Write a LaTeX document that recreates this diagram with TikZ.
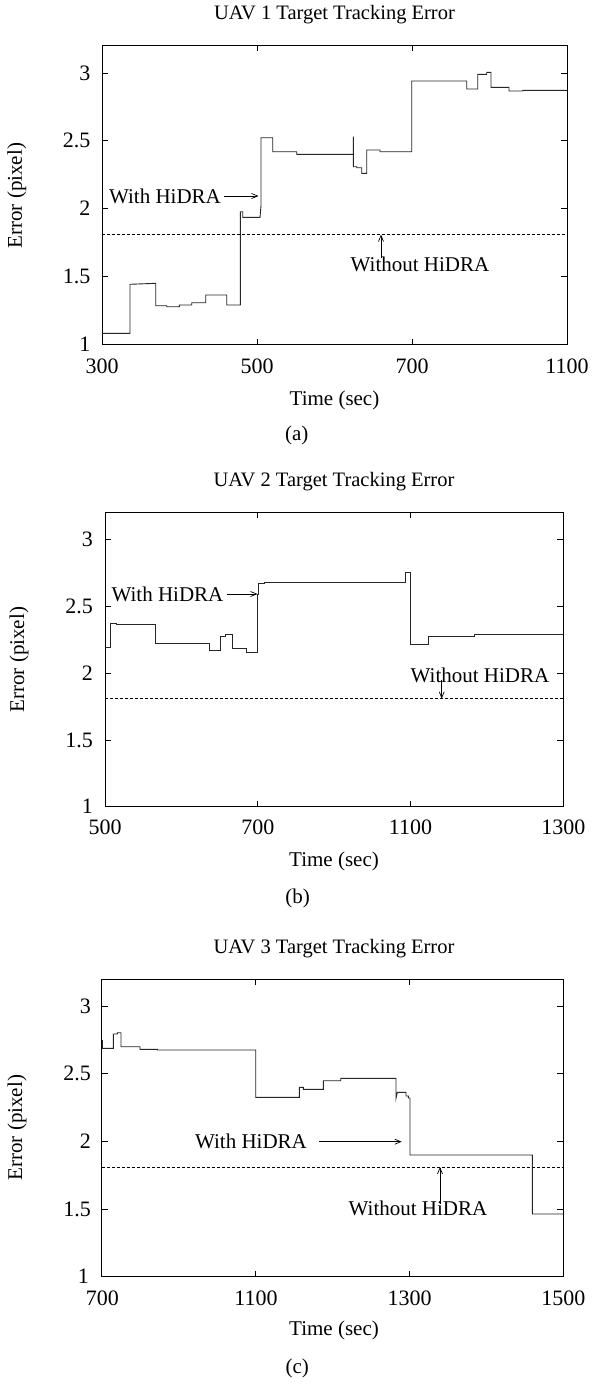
\documentclass[tikz,border=0pt]{standalone}
\usepackage{fontspec}
\setmainfont{Liberation Serif}
\usetikzlibrary{arrows.meta}
\tikzset{
  frame/.style={line width=0.9pt, black},
  tickmark/.style={line width=0.8pt, black},
  curve/.style={line width=0.9pt, black!85, line join=miter},
  thresh/.style={line width=0.8pt, black, dash pattern=on 3pt off 2pt},
  harrow/.style={line width=0.7pt, black, -{Straight Barb[length=6pt,width=5pt]}},
  txt/.style={inner sep=0pt, font=\fontsize{21}{23}\selectfont},
  ttl/.style={inner sep=0pt, font=\fontsize{20.5}{23}\selectfont},
  ticklbl/.style={inner sep=0pt, font=\fontsize{22}{24}\selectfont},
}
\begin{document}
\begin{tikzpicture}[x=1pt,y=-1pt]
\useasboundingbox[fill=white] (0,0) rectangle (592,1384);

% ================= Plot (a) =================
\draw[frame] (102,45.7) rectangle (567,344.5);
\foreach \yy in {276.6,208.7,140.8,72.9} {
  \draw[tickmark] (102,\yy) -- (108,\yy);
  \draw[tickmark] (567,\yy) -- (561,\yy);
}
\foreach \xx in {257,412} {
  \draw[tickmark] (\xx,344.5) -- (\xx,339);
  \draw[tickmark] (\xx,45.7) -- (\xx,51.2);
}
\node[ticklbl, anchor=east] (ya1) at (90.5,344.5) {1};
\node[ticklbl, anchor=east] (ya15) at (90.5,276.6) {1.5};
\node[ticklbl, anchor=east] (ya2) at (90.5,208.7) {2};
\node[ticklbl, anchor=east] (ya25) at (90.5,140.8) {2.5};
\node[ticklbl, anchor=east] (ya3) at (90.5,72.9) {3};
\node[ticklbl] (xa1) at (102,366.7) {300};
\node[ticklbl] (xa2) at (257,366.7) {500};
\node[ticklbl] (xa3) at (412,366.7) {700};
\node[ticklbl] (xa4) at (567,366.7) {1100};
\node[ttl] (ta) at (334.5,15) {UAV 1 Target Tracking Error};
\node[txt, rotate=90] (yla) at (16.7,195.7) {Error (pixel)};
\node[txt] (xla) at (334.5,400) {Time (sec)};
\node[txt] (ca) at (296.7,435) {(a)};
\coordinate (dla1) at (102,234.5);
\coordinate (dla2) at (567,234.5);
\draw[thresh] (dla1) -- (dla2);
\draw[curve] (102,333.3) -- (130,333.3) -- (130,284.3) -- (155.7,283.3) -- (155.7,305.7)
  -- (166.7,305.7) -- (166.7,306.7) -- (179.3,306.7) -- (179.3,305) -- (191.7,305)
  -- (191.7,302.7) -- (205.7,302.7) -- (205.7,295) -- (226.7,295) -- (226.7,305)
  -- (240.3,305) -- (240.3,211.7) -- (242.7,211.7) -- (242.7,217.3) -- (260,217.3)
  -- (261,205.7) -- (261,137.7) -- (272.7,137.7) -- (272.7,151.7) -- (296.7,151.7)
  -- (296.7,154.3) -- (353.3,154.3) -- (353.3,136.7) -- (353.3,166.7) -- (356.7,166.7)
  -- (356.7,167.7) -- (361.7,167.7) -- (361.7,173.3) -- (366.7,173.3) -- (366.7,150)
  -- (380,150) -- (380,151.7) -- (411.7,151.7) -- (411.7,81) -- (466.7,81)
  -- (466.7,89) -- (477.7,89) -- (477.7,74.3) -- (486.7,74.3) -- (486.7,72.3)
  -- (491,72.3) -- (491,87.3) -- (509,87.3) -- (509,91) -- (522.7,91)
  -- (522.7,90.3) -- (567,90.3);
\node[txt] (wa) at (165,196) {With HiDRA};
\coordinate (tipwa) at (258.5,196);
\draw[harrow] ([xshift=3pt]wa.east) -- (tipwa);
\node[txt] (woa) at (420,264) {Without HiDRA};
\coordinate (tipwoa) at (381,234.5);
\draw[harrow] ([yshift=-2pt]woa.north -| tipwoa) -- (tipwoa);

% ================= Plot (b) =================
\draw[frame] (105,512.7) rectangle (563.3,806.7);
\foreach \yy in {740,673.2,606.5,539.7} {
  \draw[tickmark] (105,\yy) -- (111,\yy);
  \draw[tickmark] (563.3,\yy) -- (557.3,\yy);
}
\foreach \xx in {257.8,410.5} {
  \draw[tickmark] (\xx,806.7) -- (\xx,801.2);
  \draw[tickmark] (\xx,512.7) -- (\xx,518.2);
}
\node[ticklbl, anchor=east] (yb1) at (93,806.7) {1};
\node[ticklbl, anchor=east] (yb15) at (93,740) {1.5};
\node[ticklbl, anchor=east] (yb2) at (93,673.2) {2};
\node[ticklbl, anchor=east] (yb25) at (93,606.5) {2.5};
\node[ticklbl, anchor=east] (yb3) at (93,539.7) {3};
\node[ticklbl] (xb1) at (105,827.7) {500};
\node[ticklbl] (xb2) at (257.8,827.7) {700};
\node[ticklbl] (xb3) at (410.5,827.7) {1100};
\node[ticklbl] (xb4) at (563.3,827.7) {1300};
\node[ttl] (tb) at (334,481.7) {UAV 2 Target Tracking Error};
\node[txt, rotate=90] (ylb) at (19,659.7) {Error (pixel)};
\node[txt] (xlb) at (334,861) {Time (sec)};
\node[txt] (cb) at (297.6,898) {(b)};
\coordinate (dlb1) at (105,698.6);
\coordinate (dlb2) at (563.3,698.6);
\draw[thresh] (dlb1) -- (dlb2);
\draw[curve] (105,647.7) -- (110.7,647.7) -- (110.7,623.3) -- (116.7,623.3) -- (116.7,624.3)
  -- (155,624.3) -- (155,643.3) -- (209,643.3) -- (209,650.7) -- (220,650.7)
  -- (220,636) -- (225.7,636) -- (225.7,634) -- (232.3,634) -- (232.3,648.3)
  -- (246,648.3) -- (246,652.7) -- (257.7,652.7) -- (257.7,594) -- (258.7,594)
  -- (258.7,583.3) -- (264,583.3) -- (264,582.7) -- (405.7,582.7) -- (405.7,572.7)
  -- (410,572.7) -- (410,644) -- (428.3,644) -- (428.3,636) -- (474,636)
  -- (474,634) -- (563.3,634);
\node[txt] (wb) at (167.5,594) {With HiDRA};
\coordinate (tipwb) at (257.5,594);
\draw[harrow] ([xshift=3pt]wb.east) -- (tipwb);
\node[txt] (wob) at (480,675) {Without HiDRA};
\coordinate (tipwob) at (441.7,698.6);
\draw[harrow] ([yshift=-5pt]wob.center -| tipwob) -- (tipwob);

% ================= Plot (c) =================
\draw[frame] (101.7,979.3) rectangle (563.3,1276.5);
\foreach \yy in {1208.9,1141.3,1073.7,1006.1} {
  \draw[tickmark] (101.7,\yy) -- (107.7,\yy);
  \draw[tickmark] (563.3,\yy) -- (557.3,\yy);
}
\foreach \xx in {255.6,409.5} {
  \draw[tickmark] (\xx,1276.5) -- (\xx,1271);
  \draw[tickmark] (\xx,979.3) -- (\xx,984.8);
}
\node[ticklbl, anchor=east] (yc1) at (89,1276.5) {1};
\node[ticklbl, anchor=east] (yc15) at (91,1208.9) {1.5};
\node[ticklbl, anchor=east] (yc2) at (91,1141.3) {2};
\node[ticklbl, anchor=east] (yc25) at (91,1073.7) {2.5};
\node[ticklbl, anchor=east] (yc3) at (91,1006.1) {3};
\node[ticklbl] (xc1) at (102.3,1298.3) {700};
\node[ticklbl] (xc2) at (256,1298.3) {1100};
\node[ticklbl] (xc3) at (409.5,1298.3) {1300};
\node[ticklbl] (xc4) at (563.3,1298.3) {1500};
\node[ttl] (tc) at (334,948.3) {UAV 3 Target Tracking Error};
\node[txt, rotate=90] (ylc) at (17,1127.7) {Error (pixel)};
\node[txt] (xlc) at (334,1330.5) {Time (sec)};
\node[txt] (cc) at (297.3,1368) {(c)};
\coordinate (dlc1) at (101.7,1167);
\coordinate (dlc2) at (563.3,1167);
\draw[thresh] (dlc1) -- (dlc2);
\draw[curve] (102.5,1040) -- (102.5,1048.3) -- (113.3,1048.3) -- (113.3,1034) -- (117.3,1034)
  -- (117.3,1032.7) -- (121,1032.7) -- (121,1046.7) -- (140,1046.7) -- (140,1049.3)
  -- (157.3,1049.3) -- (157.3,1050) -- (255.7,1050) -- (255.7,1097.3) -- (299.3,1097.3)
  -- (299.3,1087.3) -- (303.3,1087.3) -- (303.3,1089.3) -- (323.3,1089.3) -- (323.3,1080.7)
  -- (340.7,1080.7) -- (340.7,1078.3) -- (396,1078.3) -- (396,1098.3) -- (397.3,1092.3)
  -- (406,1092.3) -- (406,1096) -- (408.3,1096) -- (408.3,1098) -- (410,1098)
  -- (410,1155) -- (532.3,1155) -- (532.3,1214) -- (563.3,1214);
\node[txt] (wc) at (251,1141.7) {With HiDRA};
\coordinate (tipwc) at (401.7,1141.7);
\draw[harrow] ([xshift=12pt]wc.east) -- (tipwc);
\node[txt] (woc) at (418,1208.3) {Without HiDRA};
\coordinate (tipwoc) at (440,1167);
\draw[harrow] ([yshift=-3pt]woc.north -| tipwoc) -- (tipwoc);
\end{tikzpicture}
\end{document}
